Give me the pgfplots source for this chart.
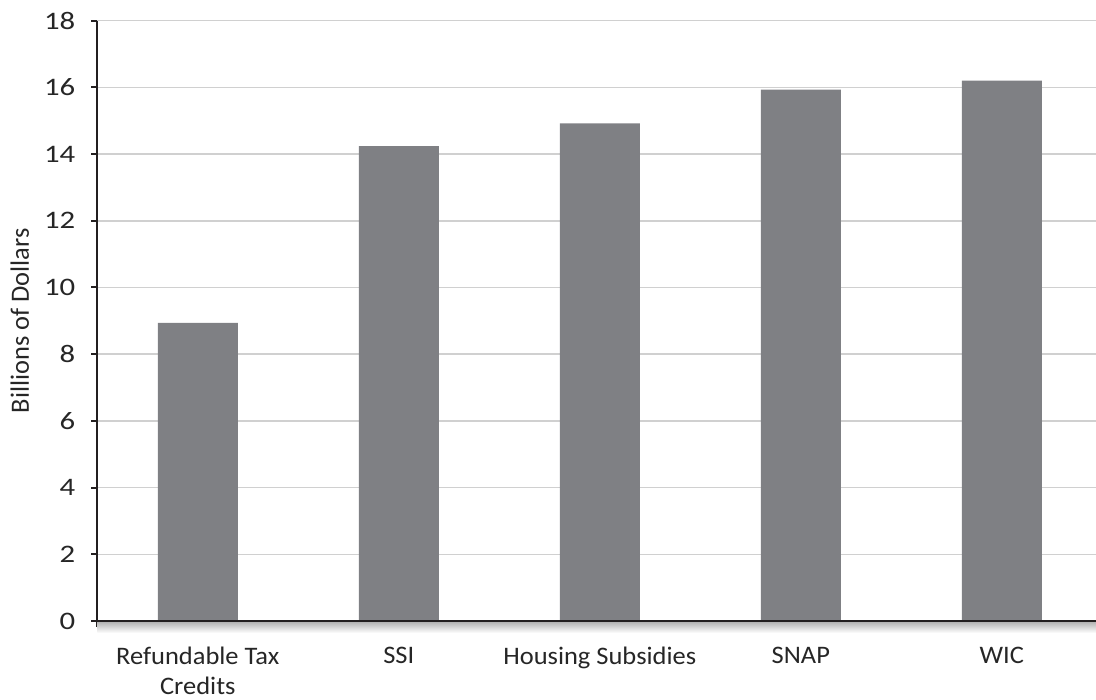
\documentclass[border=0pt]{standalone}
\usepackage{pgfplots}
\pgfplotsset{compat=1.18}
\usepackage{fontspec}
\setmainfont{Carlito}
\newfontfamily\tickfont[FakeStretch=1.22]{Carlito}
\newfontfamily\labfont[FakeStretch=1.05]{Carlito}
\definecolor{barcol}{RGB}{127,128,132}
\definecolor{axcol}{RGB}{35,31,32}
\definecolor{gridcol}{RGB}{208,208,208}
\begin{document}
\begin{tikzpicture}
\useasboundingbox (0,0) rectangle (548pt,350pt);
\begin{axis}[
  at={(48.65pt,39.5pt)}, anchor=south west,
  scale only axis, width=502.5pt, height=300.15pt,
  xmin=-0.5, xmax=4.5, ymin=0, ymax=18,
  clip=false,
  axis x line=bottom, axis y line=left,
  axis line style={-, color=axcol, line width=1pt},
  ytick={0,2,...,18},
  xtick={-0.5,0.5,...,4.5},
  x tick label as interval,
  xticklabels={{Refundable Tax\\Credits},SSI,Housing Subsidies,SNAP,WIC},
  xticklabel style={align=center, yshift=-6.5pt, font=\labfont\fontsize{12.6pt}{15pt}\selectfont, text=black!85},
  yticklabel style={xshift=-4.5pt, font=\tickfont\fontsize{12.6pt}{15pt}\selectfont, text=black!85},
  tick align=outside,
  major tick length=3pt,
  tick style={color=axcol, line width=1pt},
  ymajorgrids,
  grid style={color=gridcol, line width=0.75pt},
  ylabel={Billions of Dollars},
  ylabel style={at={(axis description cs:-0.0772,0.5)}, anchor=center, font=\fontsize{13.2pt}{15pt}\selectfont, text=black!85},
  /pgf/number format/assume math mode=true,
]
\addplot[ybar, bar width=40pt, fill=barcol, draw=none] coordinates {(0,8.94) (1,14.24) (2,14.92) (3,15.93) (4,16.2)};
\shade[top color=black!30, bottom color=white] ([yshift=-0.4pt]rel axis cs:0,0) rectangle ([yshift=-6pt]rel axis cs:1,0);
\draw[axcol, line width=1pt] (rel axis cs:0,0) -- (rel axis cs:1,0);
\end{axis}
\end{tikzpicture}
\end{document}
